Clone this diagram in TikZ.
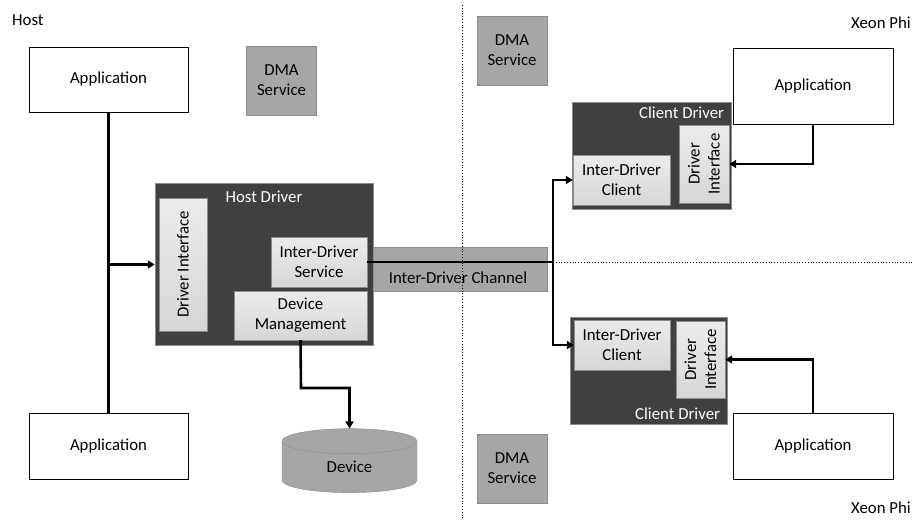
\documentclass[tikz,border=0pt]{standalone}
\usepackage{fontspec}
\setmainfont{Carlito}
\usepackage{tikz}
\usetikzlibrary{positioning, arrows.meta, calc, shapes.geometric}
\definecolor{drvdark}{HTML}{404040}
\definecolor{midgray}{HTML}{A6A6A6}
\definecolor{edgegray}{HTML}{8C8C8C}
\tikzset{
  every node/.style={font=\fontsize{16.8}{20}\selectfont},
  app/.style={draw, fill=white, minimum width=159, minimum height=65, inner sep=0},
  dma/.style={draw=edgegray, fill=midgray, align=center, minimum width=70, minimum height=69, inner sep=0},
  drv/.style={draw=edgegray, fill=drvdark, inner sep=0},
  part/.style={draw=edgegray, top color=gray!15, bottom color=gray!32, align=center, inner sep=0},
  title/.style={text=white, inner sep=0},
  link/.style={line width=2.6pt},
  arrow/.style={line width=2.6pt, -{Triangle[length=7pt,width=8pt]}},
  border/.style={dotted, line width=0.8pt}
}
\begin{document}
\begin{tikzpicture}[x=1pt, y=-1pt]
\useasboundingbox (0,0) rectangle (913,520);
\node[anchor=base west, inner sep=0] (host) at (12,25) {Host};
\node[anchor=base east, inner sep=0] (xeontop) at (911,28) {Xeon Phi};
\node[anchor=base east, inner sep=0] (xeonbot) at (911,513) {Xeon Phi};
\node[app] (apptl) at (108.5,79.5) {Application};
\node[app, minimum height=66] (appbl) at (108.5,446) {Application};
\node[app, minimum width=160, minimum height=76] (apptr) at (813,86) {Application};
\node[app, minimum width=160, minimum height=66] (appbr) at (813,446) {Application};
\node[dma] (dmal) at (281.5,80.5) {DMA\\Service};
\node[dma] (dmart) at (512,50.5) {DMA\\Service};
\node[dma] (dmarb) at (512,468.5) {DMA\\Service};
\node[dma, minimum width=175, minimum height=44] (chan) at (459.5,269) {};
\node (chantxt) at (458,278) {Inter-Driver Channel};
\node[drv, minimum width=218, minimum height=162] (hdrv) at (264,264) {};
\node[title] (hdrvtitle) at (264,197) {Host Driver};
\node[part, rotate=90, minimum width=133, minimum height=48] (dih) at (183,264.5) {Driver Interface};
\node[part, minimum width=96, minimum height=50] (ids) at (319,262) {Inter-Driver\\Service};
\node[part, minimum width=133, minimum height=49] (devm) at (300.5,315.5) {Device\\Management};
\node[drv, minimum width=159, minimum height=107] (cdt) at (651.5,155.5) {};
\node[title, anchor=north east] (cdttitle) at ($(cdt.north east)+(-7,5)$) {Client Driver};
\node[part, minimum width=97, minimum height=50] (idct) at (621.5,180) {Inter-Driver\\Client};
\node[part, rotate=90, minimum width=78, minimum height=50] (dit) at (704,164) {Driver\\Interface};
\node[drv, minimum width=157, minimum height=107] (cdb) at (648.5,370.5) {};
\node[title, anchor=south east] (cdbtitle) at ($(cdb.south east)+(-7,-4)$) {Client Driver};
\node[part, minimum width=96, minimum height=50] (idcb) at (622,345) {Inter-Driver\\Client};
\node[part, rotate=90, minimum width=77, minimum height=49] (dib) at (700.5,359.5) {Driver\\Interface};
\node[cylinder, shape border rotate=90, aspect=0.55, draw=edgegray, fill=midgray, minimum width=135, minimum height=64, inner sep=0, text depth=-8pt] (dev) at (349.5,467) {Device};
\coordinate (split) at (553,262);
\coordinate (bend) at (301,388);
\draw[link] (apptl.south) -- (appbl.north);
\draw[arrow] (apptl.south |- dih.center) -- (hdrv.west |- dih.center);
\draw[link] (ids.east) -- (split);
\draw[arrow] (split) |- (idct.west);
\draw[arrow] (split) |- (idcb.west);
\draw[arrow] (apptr.south) |- (dit.south);
\draw[arrow] (appbr.north) |- (dib.south);
\draw[arrow] (devm.south) -- (bend) -| (dev.north);
\draw[border] (462,5) -- (462,520);
\draw[border] (split) -- (913,262);
\end{tikzpicture}
\end{document}
